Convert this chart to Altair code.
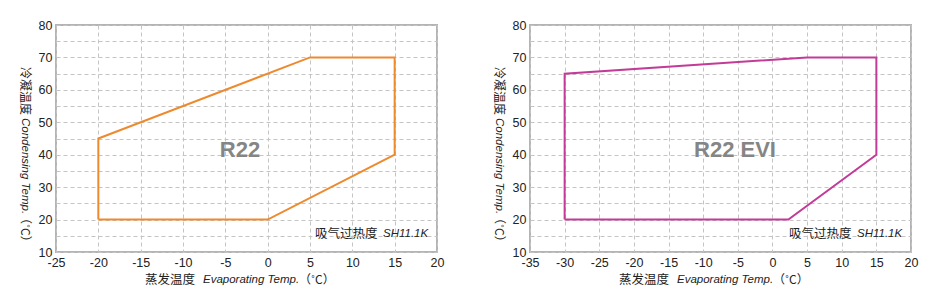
import altair as alt
import pandas as pd

# ---- data ----
r22_evap = [-20, -20, 5, 15, 15, 0, -20]
r22_cond = [20, 45, 70, 70, 40, 20, 20]
evi_evap = [-30, -30, 5, 15, 15, 2.3, -30]
evi_cond = [20, 65, 70, 70, 40, 20, 20]

r22_xdomain = [-25, 20]
evi_xdomain = [-35, 20]
ydomain = [10, 80]
x_ticks_r22 = list(range(-25, 21, 5))
x_ticks_evi = list(range(-35, 21, 5))
y_ticks = list(range(10, 81, 5))

W, H = 381, 227
LATIN = "Liberation Sans"
CJK = "Noto Sans CJK SC"


def panel(evap, cond, xdomain, xticks, color, label, label_x):
    df = pd.DataFrame({"evap": evap, "cond": cond, "order": list(range(len(evap)))})
    common = dict(title=None, grid=True, ticks=False, domain=False,
                  labelFont=LATIN, labelFontSize=12.5, labelColor="#222",
                  gridColor="#c4c4c4", gridDash=[4, 3], gridWidth=1,
                  labelFlush=False)
    x = alt.X("evap:Q", scale=alt.Scale(domain=xdomain, nice=False, zero=False),
              axis=alt.Axis(values=xticks, labelExpr="'' + datum.value",
                            labelPadding=4, **common))
    y = alt.Y("cond:Q", scale=alt.Scale(domain=ydomain, nice=False, zero=False),
              axis=alt.Axis(values=y_ticks,
                            labelExpr="datum.value % 10 == 0 ? '' + datum.value : ''",
                            labelPadding=4, **common))
    line = alt.Chart(df).mark_line(color=color, strokeWidth=2).encode(x=x, y=y, order="order:Q")

    big = alt.Chart(pd.DataFrame({"t": [label]})).mark_text(
        font=LATIN, fontSize=22, fontWeight="bold", color="#858585",
        align="center", baseline="middle"
    ).encode(text="t:N", x=alt.value(label_x), y=alt.value(125))

    def txt(s, xv, yv, font, italic=False, angle=0, size=12):
        kw = dict(font=font, fontSize=size, color="#222", align="left", baseline="middle")
        if italic:
            kw["fontStyle"] = "italic"
        if angle:
            kw["angle"] = angle
        return alt.Chart(pd.DataFrame({"t": [s]})).mark_text(**kw).encode(
            text="t:N", x=alt.value(xv), y=alt.value(yv))

    xt = [txt("蒸发温度", 89, 255, CJK, size=12.5),
          txt("Evaporating Temp.", 147, 255, LATIN, italic=True, size=11.5),
          txt("（˚C）", 243, 255, CJK)]
    yt = [txt("冷凝温度", -31, 42, CJK, angle=90, size=12),
          txt("Condensing Temp.", -31, 93, LATIN, italic=True, angle=90, size=11.5),
          txt("（˚C）", -31, 187, CJK, angle=90)]
    sh = [txt("吸气过热度", 259, 209, CJK, size=12.5),
          txt("SH11.1K", 327, 209, LATIN, italic=True, size=11.5)]

    return alt.layer(line, big, *xt, *yt, *sh).properties(width=W, height=H)


left = panel(r22_evap, r22_cond, r22_xdomain, x_ticks_r22, "#EE8A2E", "R22", 184)
right = panel(evi_evap, evi_cond, evi_xdomain, x_ticks_evi, "#C23C97", "R22 EVI", 205)

chart = alt.hconcat(left, right, spacing=47).configure_view(
    stroke="#b4b4b4", strokeWidth=2
).properties(
    padding={"left": 18, "top": 18, "right": 5, "bottom": 5},
    background="white"
)

chart.save("out.html", embed_options={"renderer": "svg", "actions": False})
